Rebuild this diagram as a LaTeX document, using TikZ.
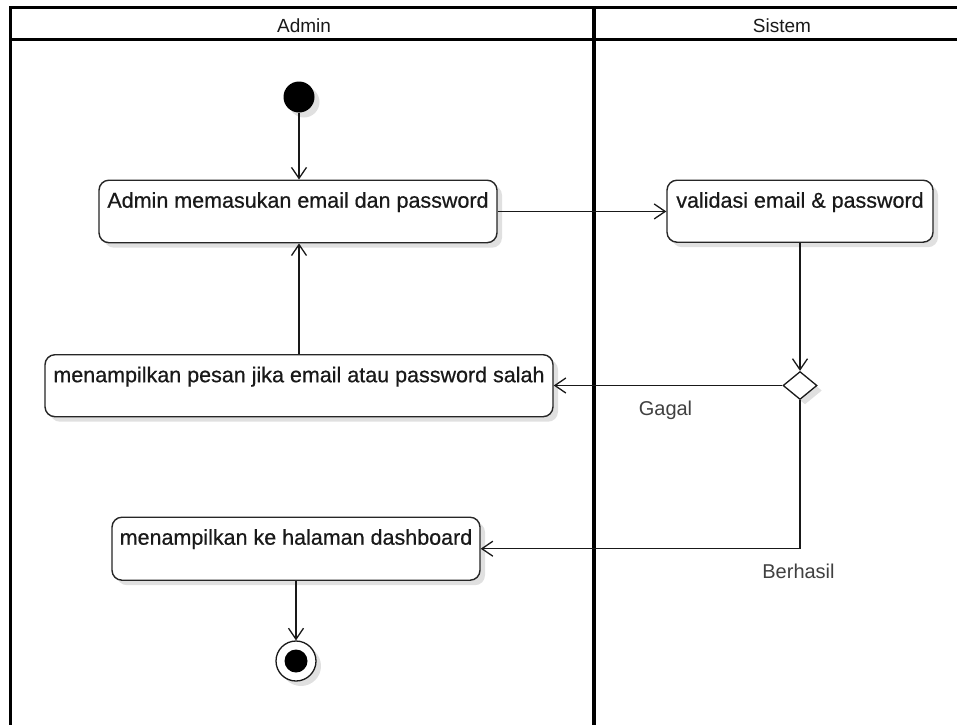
\documentclass[tikz,border=0pt]{standalone}
\usepackage{fontspec}
\setmainfont{Liberation Sans}
\newfontfamily\boxfont[FakeBold=0.6]{Liberation Sans}
\usetikzlibrary{arrows.meta,shapes.geometric,shadows}
\begin{document}
\begin{tikzpicture}[x=1pt,y=-1pt,
  lane/.style={line width=3pt,draw=black},
  shad/.style={drop shadow={shadow xshift=5pt,shadow yshift=-5pt,opacity=0.12,fill=black}},
  act/.style={draw=black!85, line width=1.4pt, rounded corners=10pt, fill=white,
    inner xsep=4pt, inner ysep=0pt, text height=27.5pt, anchor=north,
    font=\boxfont\fontsize{21.5}{24}\selectfont, text=black!90, shad},
  flow/.style={draw=black!90, line width=1.3pt,
    -{Straight Barb[length=11pt,width=15pt,line width=1.3pt]}},
  lbl/.style={font=\fontsize{20}{24}\selectfont, text=black!75, anchor=base},
  head/.style={font=\fontsize{19}{21}\selectfont, anchor=base, text=black!90}]
\useasboundingbox (0,0) rectangle (957,724);
\clip (0,0) rectangle (957,724);
\fill[white] (0,0) rectangle (957,724);

% swimlanes
\draw[lane] (10,7.5) -- (990,7.5);
\draw[lane] (10,39.5) -- (990,39.5);
\draw[lane] (10,6) -- (10,740);
\draw[line width=3.5pt] (594,6) -- (594,740);
\node[head] (hA) at (304,32) {Admin};
\node[head] (hS) at (782,32) {Sistem};

% nodes
\node[circle, fill=black, minimum size=31pt, inner sep=0pt, shad] (start) at (299,97) {};
\node[act, minimum width=398pt, text depth=35pt] (b1) at (298,179.5) {Admin memasukan email dan password};
\node[act, minimum width=266pt, text depth=34.5pt] (b2) at (800,179.5) {validasi email \& password};
\node[diamond, draw=black!90, line width=1.3pt, fill=white, minimum width=34pt, minimum height=28pt,
  inner sep=0pt, shape aspect=1.2, shad] (dec) at (800,385.5) {};
\node[act, minimum width=508pt, text depth=34.5pt] (b3) at (299,354) {menampilkan pesan jika email atau password salah};
\node[act, minimum width=368pt, text depth=35.5pt] (b4) at (296,516.5) {menampilkan ke halaman dashboard};
\node[circle, draw=black!90, line width=1.3pt, fill=white, minimum size=40pt, inner sep=0pt, shad,
  path picture={\fill[black] (path picture bounding box.center) circle (11.5pt);}] (end) at (296,661) {};

% flows
\draw[flow] (start) -- (start |- b1.north);
\draw[flow] (b1.east) -- (b1.east -| b2.west);
\draw[flow] (b2.south) -- (dec.north);
\draw[flow] (dec.west) -- (dec.west -| b3.east);
\draw[flow] (b3.north) -- (b3.north |- b1.south);
\draw[flow] (dec.south) |- (b4.east);
\draw[flow] (b4.south) -- (end.north);

% labels
\node[lbl] (gagal) at (665.5,415) {Gagal};
\node[lbl] (berhasil) at (798.5,578) {Berhasil};
\end{tikzpicture}
\end{document}
